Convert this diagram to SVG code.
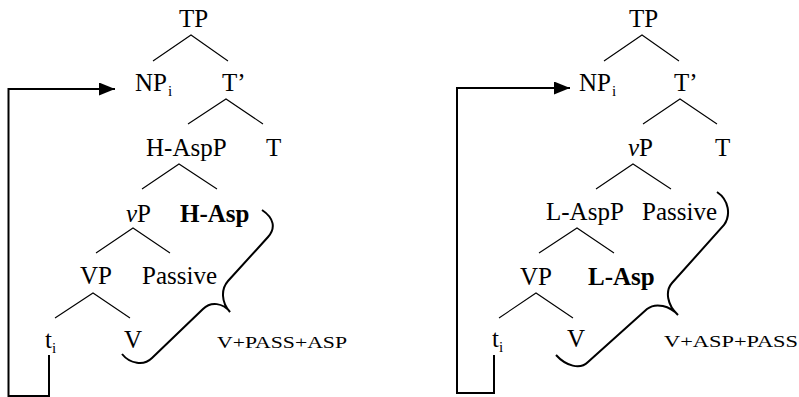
<svg xmlns="http://www.w3.org/2000/svg" width="799" height="397" viewBox="0 0 799 397">
<defs>
<style>
text{font-family:"Liberation Serif","Times New Roman",serif;font-size:25px;fill:#000}
.sub{font-size:15px}
.b{font-weight:bold}
.sm{font-size:17.5px}
.br{fill:none;stroke:#000;stroke-width:2}
.ln{stroke:#000;stroke-width:1.1;fill:none}
.mv{fill:none;stroke:#000;stroke-width:2}
</style>
<marker id="ah" markerUnits="userSpaceOnUse" markerWidth="17" markerHeight="14" refX="16" refY="6.5" orient="auto">
<path d="M0,0 L16,6.5 L0,13 z" fill="#000"/>
</marker>
</defs>
<rect width="799" height="397" fill="#fff"/>

<!-- Left tree -->
<g id="L-TP"><text x="179" y="27">TP</text></g>
<g id="L-NP"><text x="135" y="91">NP<tspan class="sub" x="168" y="96">i</tspan></text></g>
<g id="L-Tbar"><text x="222" y="91">T’</text></g>
<g id="L-HAspP"><text x="146" y="156">H-AspP</text></g>
<g id="L-T"><text x="266" y="156">T</text></g>
<g id="L-vP"><text x="126" y="222"><tspan font-style="italic">v</tspan>P</text></g>
<g id="L-HAsp"><text class="b" x="180" y="222">H-Asp</text></g>
<g id="L-VP"><text x="80" y="284">VP</text></g>
<g id="L-Passive"><text x="142" y="284">Passive</text></g>
<g id="L-t"><text x="45" y="348">t<tspan class="sub" x="52" y="353">i</tspan></text></g>
<g id="L-V"><text x="124" y="348">V</text></g>
<g id="L-result"><text class="sm" x="217" y="348" textLength="130" lengthAdjust="spacingAndGlyphs">V+PASS+ASP</text></g>

<!-- Right tree -->
<g id="R-TP"><text x="629" y="27">TP</text></g>
<g id="R-NP"><text x="579" y="91">NP<tspan class="sub" x="612" y="96">i</tspan></text></g>
<g id="R-Tbar"><text x="674" y="91">T’</text></g>
<g id="R-vP"><text x="628" y="156"><tspan font-style="italic">v</tspan>P</text></g>
<g id="R-T"><text x="715" y="156">T</text></g>
<g id="R-LAspP"><text x="546" y="220">L-AspP</text></g>
<g id="R-Passive"><text x="642" y="220">Passive</text></g>
<g id="R-VP"><text x="520" y="285">VP</text></g>
<g id="R-LAsp"><text class="b" x="588" y="285">L-Asp</text></g>
<g id="R-t"><text x="492" y="347">t<tspan class="sub" x="499" y="352">i</tspan></text></g>
<g id="R-V"><text x="567" y="347">V</text></g>
<g id="R-result"><text class="sm" x="664" y="347" textLength="134" lengthAdjust="spacingAndGlyphs">V+ASP+PASS</text></g>

<g id="connectors">
<!-- left tree branches -->
<path class="ln" d="M153,61 L191,35 L228,61"/>
<path class="ln" d="M188,124 L226,99 L263,124"/>
<path class="ln" d="M142,189 L179,164 L217,189"/>
<path class="ln" d="M96,253 L133,228 L170,253"/>
<path class="ln" d="M55,318 L93,293 L130,318"/>
<!-- right tree branches -->
<path class="ln" d="M604,61 L642,35 L679,61"/>
<path class="ln" d="M643,124 L680,99 L717,124"/>
<path class="ln" d="M596,189 L633,164 L671,189"/>
<path class="ln" d="M539,253 L577,228 L614,253"/>
<path class="ln" d="M499,318 L536,293 L573,318"/>
<!-- movement arrows -->
<path class="mv" d="M49,355 L49,396 L8.5,396 L8.5,89 L115,89" marker-end="url(#ah)"/>
<path class="mv" d="M494,355 L494,393 L457,393 L457,88 L570,88" marker-end="url(#ah)"/>
<!-- braces -->
<path class="br" d="M262,210 C274,218 276,228 268,237 L228,281 C221,289 221,302 230,312 C223,303 211,301 203,309 L152,358 C144,366 130,364 122,354"/>
<path class="br" d="M717,192 C729,200 731,215 724,225 L672,283 C665,291 667,305 678,315 C670,306 656,302 647,309 L588,362 C580,370 566,366 556,355"/>
</g>
</svg>
